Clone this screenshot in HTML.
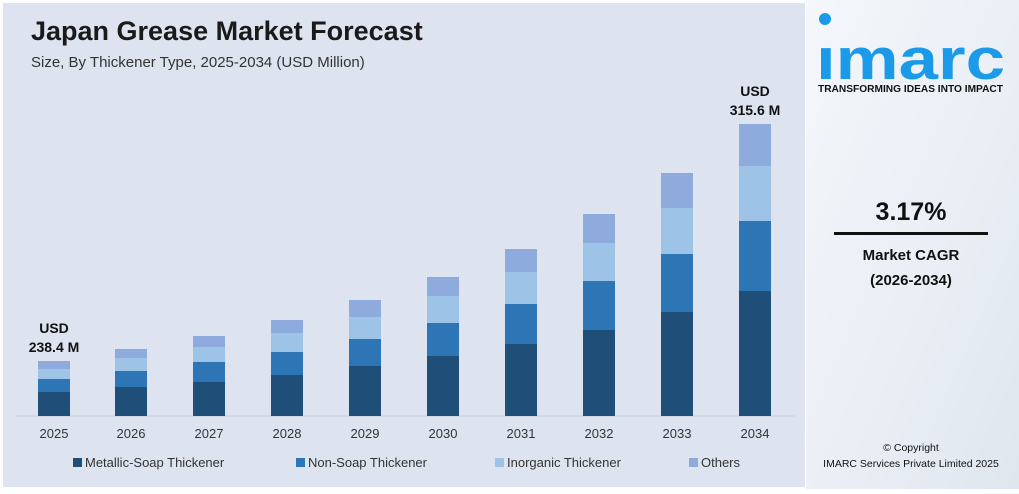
<!DOCTYPE html>
<html><head><meta charset="utf-8"><style>
body{margin:0;width:1019px;height:489px;overflow:hidden;background:#fff;font-family:"Liberation Sans",sans-serif}
</style></head><body>
<svg width="1019" height="489" xmlns="http://www.w3.org/2000/svg" font-family="Liberation Sans, sans-serif">
<defs><linearGradient id="rp" x1="0" y1="0" x2="1" y2="1"><stop offset="0" stop-color="#f4f7fb"/><stop offset="0.6" stop-color="#e9eef5"/><stop offset="1" stop-color="#dfe6ee"/></linearGradient></defs>
<rect x="0" y="0" width="1019" height="489" fill="#fff"/>
<rect x="3" y="3" width="802" height="484" fill="#dde4f0"/>
<rect x="806" y="0" width="213" height="489" fill="url(#rp)"/>
<text x="31" y="40" font-size="27" font-weight="bold" fill="#1a1a1a">Japan Grease Market Forecast</text>
<text x="31" y="67" font-size="15" fill="#333">Size, By Thickener Type, 2025-2034 (USD Million)</text>
<line x1="16" y1="416" x2="795" y2="416" stroke="#c8d0dc"/>
<g id="bars"></g>
<text x="54" y="333" font-size="14" font-weight="bold" text-anchor="middle" fill="#111">USD</text>
<text x="54" y="352" font-size="14" font-weight="bold" text-anchor="middle" fill="#111">238.4 M</text>
<text x="755" y="96" font-size="14" font-weight="bold" text-anchor="middle" fill="#111">USD</text>
<text x="755" y="115" font-size="14" font-weight="bold" text-anchor="middle" fill="#111">315.6 M</text>
<g font-size="13" fill="#333" text-anchor="middle">
<text x="54" y="438">2025</text><text x="131" y="438">2026</text><text x="209" y="438">2027</text><text x="287" y="438">2028</text><text x="365" y="438">2029</text><text x="443" y="438">2030</text><text x="521" y="438">2031</text><text x="599" y="438">2032</text><text x="677" y="438">2033</text><text x="755" y="438">2034</text>
</g>
<g font-size="13" fill="#333">
<rect x="73" y="458" width="9" height="9" fill="#1f4e79"/><text x="85" y="467">Metallic-Soap Thickener</text>
<rect x="296" y="458" width="9" height="9" fill="#2e75b6"/><text x="308" y="467">Non-Soap Thickener</text>
<rect x="495" y="458" width="9" height="9" fill="#9dc3e6"/><text x="507" y="467">Inorganic Thickener</text>
<rect x="689" y="458" width="9" height="9" fill="#8faadc"/><text x="701" y="467">Others</text>
</g>
<circle cx="825" cy="19" r="6" fill="#1a9ae8"/>
<text x="816" y="79" font-size="58" font-weight="bold" fill="#1a9ae8" textLength="189" lengthAdjust="spacingAndGlyphs">ımarc</text>
<text x="818" y="92" font-size="10.5" font-weight="bold" fill="#111" textLength="185" lengthAdjust="spacingAndGlyphs">TRANSFORMING IDEAS INTO IMPACT</text>
<text x="911" y="220" font-size="25" font-weight="bold" text-anchor="middle" fill="#111">3.17%</text>
<rect x="834" y="232" width="154" height="3" fill="#111"/>
<text x="911" y="260" font-size="15" font-weight="bold" text-anchor="middle" fill="#111">Market CAGR</text>
<text x="911" y="285" font-size="15" font-weight="bold" text-anchor="middle" fill="#111">(2026-2034)</text>
<text x="911" y="451" font-size="10.5" text-anchor="middle" fill="#111">© Copyright</text>
<text x="911" y="467" font-size="10.5" text-anchor="middle" fill="#111">IMARC Services Private Limited 2025</text>
</svg>
<script>
var d=[[54,361,369,379,392],[131,349,358,371,387],[209,336,347,362,382],[287,320,333,352,375],[365,300,317,339,366],[443,277,296,323,356],[521,249,272,304,344],[599,214,243,281,330],[677,173,208,254,312],[755,124,166,221,291]];
var c=["#8faadc","#9dc3e6","#2e75b6","#1f4e79"],g=document.getElementById("bars"),s="";
d.forEach(function(b){var y=[b[1],b[2],b[3],b[4],416];for(var i=0;i<4;i++)s+='<rect x="'+(b[0]-16)+'" y="'+y[i]+'" width="32" height="'+(y[i+1]-y[i])+'" fill="'+c[i]+'"/>';});
g.innerHTML=s;
</script>
</body></html>
